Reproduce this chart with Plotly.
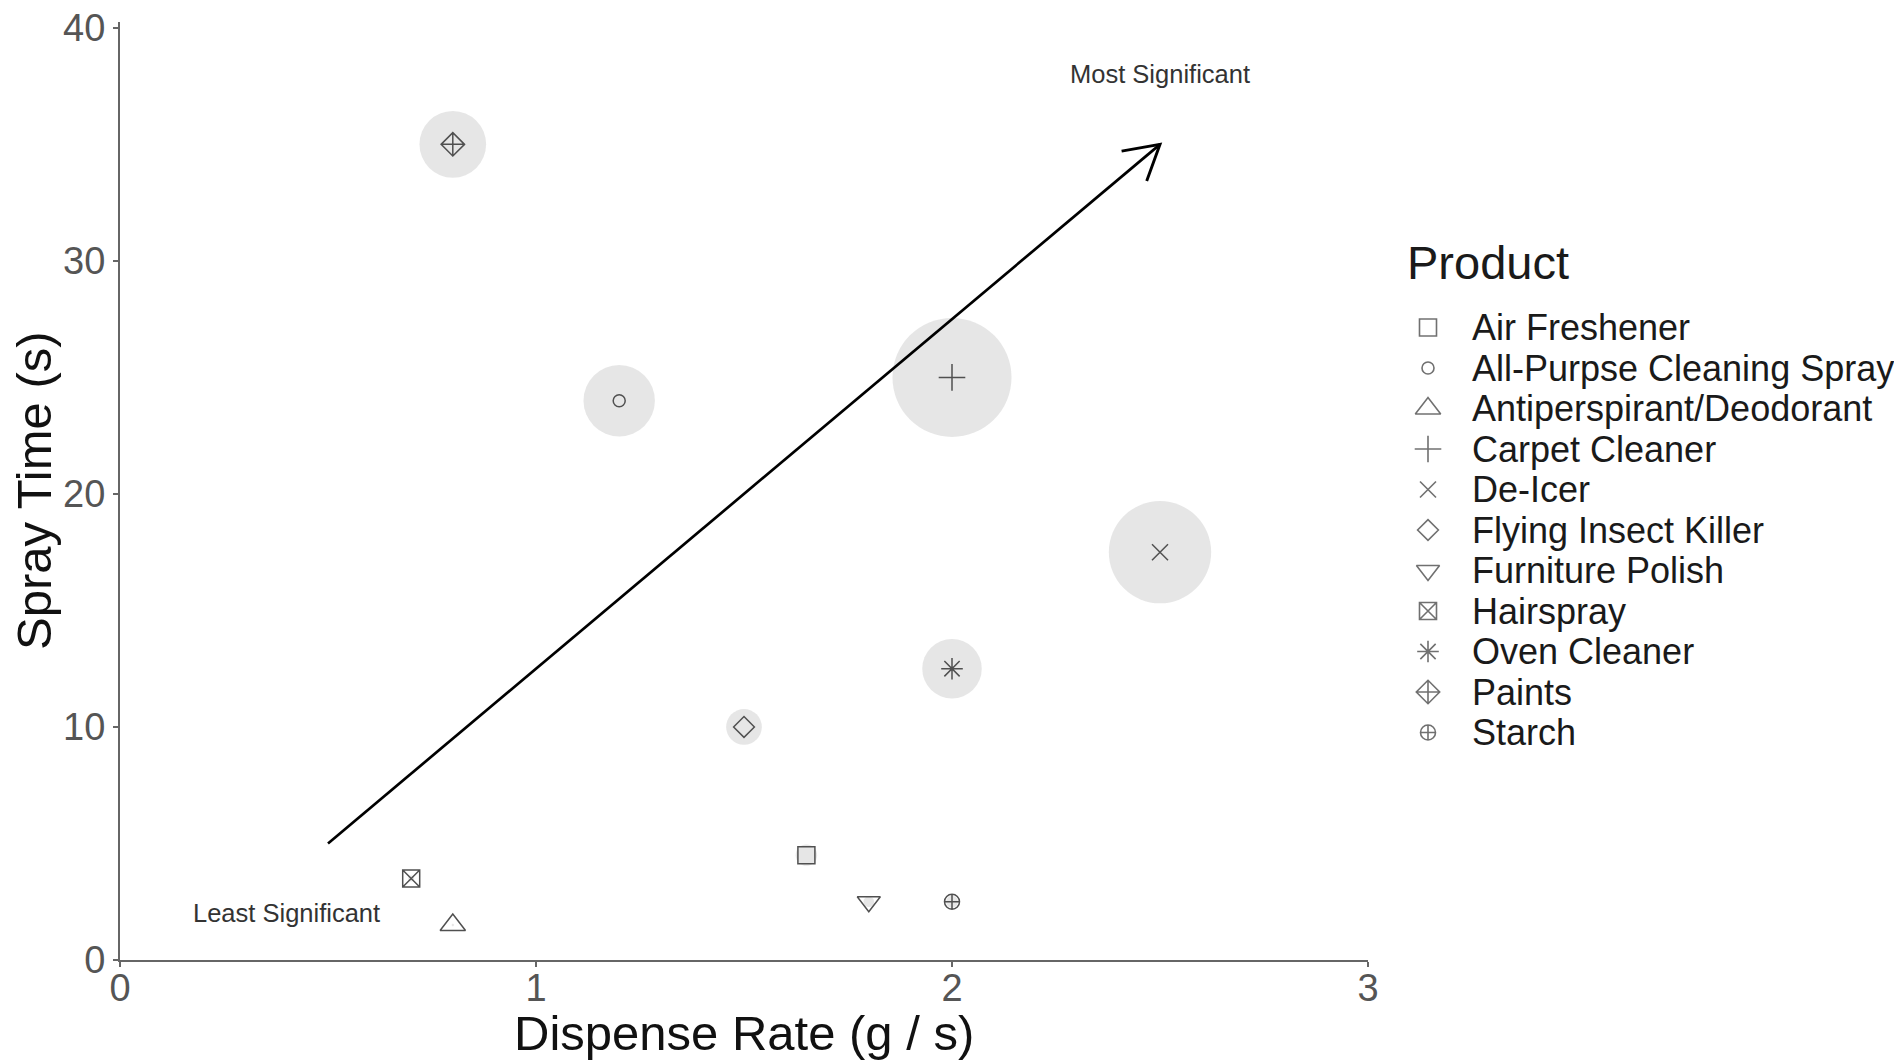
import math
import plotly.graph_objects as go

# ---------------- data ----------------
products = ["Air Freshener", "All-Purpse Cleaning Spray", "Antiperspirant/Deodorant",
            "Carpet Cleaner", "De-Icer", "Flying Insect Killer", "Furniture Polish",
            "Hairspray", "Oven Cleaner", "Paints", "Starch"]
dispense_rate = [1.65, 1.2, 0.8, 2.0, 2.5, 1.5, 1.8, 0.7, 2.0, 0.8, 2.0]
spray_time = [4.5, 24, 1.5, 25, 17.5, 10, 2.5, 3.5, 12.5, 35, 2.5]
spray_amount = [9, 30, 1, 50, 43, 15, 4.5, 2.5, 25, 28, 5]   # bubble size (estimated)

symbols = ["square-open", "circle-open", "triangle-up-open", "cross-thin-open",
           "x-thin-open", "diamond-open", "triangle-down-open", "square-x-open",
           "asterisk-open", "diamond-cross-open", "circle-cross-open"]
symbol_sizes = [17, 12, 22, 19, 16, 16, 20, 17, 18, 18, 15]

x_ticks = [0, 1, 2, 3]
y_ticks = [0, 10, 20, 30, 40]

arrow_x = [0.5, 2.5]
arrow_y = [5, 35]
label_text = ["Least Significant", "Most Significant"]
label_x = [0.4, 2.5]
label_y = [2, 38]

x_title = "Dispense Rate (g / s)"
y_title = "Spray Time (s)"
legend_title = "Product"

# ---------------- layout geometry (page pixels) ----------------
PAGE_W, PAGE_H = 1902, 1060
OFF = 8                                       # default body margin of the html page
W, H = PAGE_W - OFF, PAGE_H - OFF             # figure size
PL, PR, PT, PB = 120, 1368, 22, 960           # plot area edges (page px)
x_range = [0, 3]
y_range = [0, 40.25]
px_x = (PR - PL) / (x_range[1] - x_range[0])
px_y = (PB - PT) / (y_range[1] - y_range[0])

LEG_MARK_X = 1428
LEG_TEXT_X = 1470
LEG_ROW0 = 327.5
LEG_ROW_H = 40.5
LEG_TOP, LEG_BOT = 300, 760


def fx(px):
    return (px - OFF) / W


def fy(py):
    return 1 - (py - OFF) / H


SANS = "Liberation Sans, Arial, sans-serif"
MARK_COL = "#505050"
LEG_COL = "#333333"

fig = go.Figure()

# gray bubbles
fig.add_trace(go.Scatter(
    x=dispense_rate, y=spray_time, mode="markers",
    marker=dict(size=spray_amount, sizemode="diameter", sizeref=1 / 2.38,
                color="#dcdcdc", line=dict(width=0)),
    showlegend=False, hoverinfo="skip"))

# arrow shaft
fig.add_trace(go.Scatter(x=arrow_x, y=arrow_y, mode="lines",
                         line=dict(color="black", width=2.7),
                         showlegend=False, hoverinfo="skip"))

# open arrowhead (computed in pixel space from the arrow's end points)
dx = (arrow_x[1] - arrow_x[0]) * px_x
dy = (arrow_y[1] - arrow_y[0]) * px_y
theta = math.atan2(dy, dx)
head_len = 39
head_ang = math.radians(30)
wings = []
for s in (1, -1):
    a = theta + math.pi + s * head_ang
    wings.append((arrow_x[1] + head_len * math.cos(a) / px_x,
                  arrow_y[1] + head_len * math.sin(a) / px_y))
fig.add_trace(go.Scatter(x=[wings[0][0], arrow_x[1], wings[1][0]],
                         y=[wings[0][1], arrow_y[1], wings[1][1]], mode="lines",
                         line=dict(color="black", width=2.9),
                         showlegend=False, hoverinfo="skip"))

# product symbols
for i, p in enumerate(products):
    fig.add_trace(go.Scatter(
        x=[dispense_rate[i]], y=[spray_time[i]], mode="markers", name=p,
        marker=dict(symbol=symbols[i], size=symbol_sizes[i], color=MARK_COL,
                    line=dict(color=MARK_COL, width=1.5)),
        showlegend=False))

for t, x, y in zip(label_text, label_x, label_y):
    fig.add_annotation(x=x, y=y, text=t, showarrow=False,
                       font=dict(family=SANS, size=25.5, color="#333333"))

# ---- legend drawn on its own small axis ----
leg_idx = list(range(len(products)))
fig.add_trace(go.Scatter(
    x=[0.5] * len(products), y=leg_idx, mode="markers", xaxis="x2", yaxis="y2",
    marker=dict(symbol=symbols, size=symbol_sizes, color=LEG_COL,
                line=dict(color=LEG_COL, width=1.6)),
    showlegend=False, hoverinfo="skip"))
for i, p in enumerate(products):
    fig.add_annotation(x=fx(LEG_TEXT_X), xref="paper", y=i, yref="y2", text=p,
                       showarrow=False, xanchor="left", yanchor="middle",
                       font=dict(family=SANS, size=36, color="#1a1a1a"))
fig.add_annotation(x=fx(1405), xref="paper", y=fy(262), yref="paper",
                   text=legend_title, showarrow=False, xanchor="left", yanchor="middle",
                   font=dict(family=SANS, size=47, color="#1a1a1a"))

# axis titles
fig.add_annotation(x=fx((PL + PR) / 2), y=fy(1033), xref="paper", yref="paper",
                   text=x_title, showarrow=False, xanchor="center", yanchor="middle",
                   font=dict(family=SANS, size=49, color="#111111"))
fig.add_annotation(x=fx(34), y=fy((PT + PB) / 2), xref="paper", yref="paper",
                   text=y_title, showarrow=False, textangle=-90,
                   xanchor="center", yanchor="middle",
                   font=dict(family=SANS, size=49, color="#111111"))

axis_common = dict(showgrid=False, zeroline=False, showline=True, automargin=False,
                   linecolor="#666666", linewidth=2, ticks="outside",
                   ticklen=5, tickwidth=1.5, tickcolor="#666666",
                   ticklabeloverflow="allow",
                   tickfont=dict(family=SANS, size=38, color="#555555"))

fig.update_xaxes(range=x_range, tickvals=x_ticks, ticktext=[str(v) for v in x_ticks],
                 domain=[fx(PL), fx(PR)], ticklabelstandoff=-12, **axis_common)
fig.update_yaxes(range=y_range, tickvals=y_ticks, ticktext=[str(v) for v in y_ticks],
                 domain=[fy(PB), fy(PT)], ticklabelstandoff=0, **axis_common)

leg_y_top = (LEG_TOP - LEG_ROW0) / LEG_ROW_H
leg_y_bot = (LEG_BOT - LEG_ROW0) / LEG_ROW_H
fig.update_layout(
    width=W, height=H,
    margin=dict(l=0, r=0, t=0, b=0, autoexpand=False),
    plot_bgcolor="white", paper_bgcolor="white",
    showlegend=False,
    xaxis2=dict(domain=[fx(LEG_MARK_X - 28), fx(LEG_MARK_X + 28)], range=[0, 1],
                anchor="y2", visible=False, fixedrange=True),
    yaxis2=dict(domain=[fy(LEG_BOT), fy(LEG_TOP)], range=[leg_y_bot, leg_y_top],
                anchor="x2", visible=False, fixedrange=True),
)

fig.write_html("out.html")
